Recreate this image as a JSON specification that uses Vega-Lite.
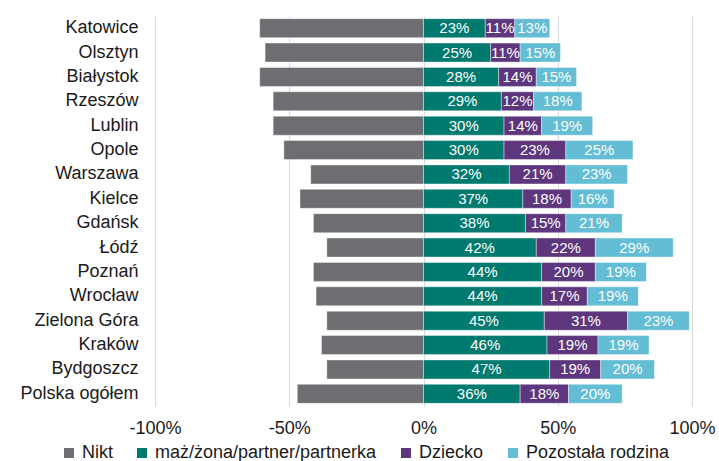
{
  "$schema": "https://vega.github.io/schema/vega-lite/v6.json",
  "width": 537,
  "height": 390,
  "autosize": {"type": "none"},
  "padding": {"left": 155, "top": 16, "right": 27, "bottom": 55},
  "config": {"font": "Liberation Sans", "view": {"stroke": null}},
  "data": {
    "values": [
      {"miasto": "Katowice", "kategoria": "Nikt", "wartosc": -61},
      {"miasto": "Katowice", "kategoria": "maż/żona/partner/partnerka", "wartosc": 23},
      {"miasto": "Katowice", "kategoria": "Dziecko", "wartosc": 11},
      {"miasto": "Katowice", "kategoria": "Pozostała rodzina", "wartosc": 13},
      {"miasto": "Olsztyn", "kategoria": "Nikt", "wartosc": -59},
      {"miasto": "Olsztyn", "kategoria": "maż/żona/partner/partnerka", "wartosc": 25},
      {"miasto": "Olsztyn", "kategoria": "Dziecko", "wartosc": 11},
      {"miasto": "Olsztyn", "kategoria": "Pozostała rodzina", "wartosc": 15},
      {"miasto": "Białystok", "kategoria": "Nikt", "wartosc": -61},
      {"miasto": "Białystok", "kategoria": "maż/żona/partner/partnerka", "wartosc": 28},
      {"miasto": "Białystok", "kategoria": "Dziecko", "wartosc": 14},
      {"miasto": "Białystok", "kategoria": "Pozostała rodzina", "wartosc": 15},
      {"miasto": "Rzeszów", "kategoria": "Nikt", "wartosc": -56},
      {"miasto": "Rzeszów", "kategoria": "maż/żona/partner/partnerka", "wartosc": 29},
      {"miasto": "Rzeszów", "kategoria": "Dziecko", "wartosc": 12},
      {"miasto": "Rzeszów", "kategoria": "Pozostała rodzina", "wartosc": 18},
      {"miasto": "Lublin", "kategoria": "Nikt", "wartosc": -56},
      {"miasto": "Lublin", "kategoria": "maż/żona/partner/partnerka", "wartosc": 30},
      {"miasto": "Lublin", "kategoria": "Dziecko", "wartosc": 14},
      {"miasto": "Lublin", "kategoria": "Pozostała rodzina", "wartosc": 19},
      {"miasto": "Opole", "kategoria": "Nikt", "wartosc": -52},
      {"miasto": "Opole", "kategoria": "maż/żona/partner/partnerka", "wartosc": 30},
      {"miasto": "Opole", "kategoria": "Dziecko", "wartosc": 23},
      {"miasto": "Opole", "kategoria": "Pozostała rodzina", "wartosc": 25},
      {"miasto": "Warszawa", "kategoria": "Nikt", "wartosc": -42},
      {"miasto": "Warszawa", "kategoria": "maż/żona/partner/partnerka", "wartosc": 32},
      {"miasto": "Warszawa", "kategoria": "Dziecko", "wartosc": 21},
      {"miasto": "Warszawa", "kategoria": "Pozostała rodzina", "wartosc": 23},
      {"miasto": "Kielce", "kategoria": "Nikt", "wartosc": -46},
      {"miasto": "Kielce", "kategoria": "maż/żona/partner/partnerka", "wartosc": 37},
      {"miasto": "Kielce", "kategoria": "Dziecko", "wartosc": 18},
      {"miasto": "Kielce", "kategoria": "Pozostała rodzina", "wartosc": 16},
      {"miasto": "Gdańsk", "kategoria": "Nikt", "wartosc": -41},
      {"miasto": "Gdańsk", "kategoria": "maż/żona/partner/partnerka", "wartosc": 38},
      {"miasto": "Gdańsk", "kategoria": "Dziecko", "wartosc": 15},
      {"miasto": "Gdańsk", "kategoria": "Pozostała rodzina", "wartosc": 21},
      {"miasto": "Łódź", "kategoria": "Nikt", "wartosc": -36},
      {"miasto": "Łódź", "kategoria": "maż/żona/partner/partnerka", "wartosc": 42},
      {"miasto": "Łódź", "kategoria": "Dziecko", "wartosc": 22},
      {"miasto": "Łódź", "kategoria": "Pozostała rodzina", "wartosc": 29},
      {"miasto": "Poznań", "kategoria": "Nikt", "wartosc": -41},
      {"miasto": "Poznań", "kategoria": "maż/żona/partner/partnerka", "wartosc": 44},
      {"miasto": "Poznań", "kategoria": "Dziecko", "wartosc": 20},
      {"miasto": "Poznań", "kategoria": "Pozostała rodzina", "wartosc": 19},
      {"miasto": "Wrocław", "kategoria": "Nikt", "wartosc": -40},
      {"miasto": "Wrocław", "kategoria": "maż/żona/partner/partnerka", "wartosc": 44},
      {"miasto": "Wrocław", "kategoria": "Dziecko", "wartosc": 17},
      {"miasto": "Wrocław", "kategoria": "Pozostała rodzina", "wartosc": 19},
      {"miasto": "Zielona Góra", "kategoria": "Nikt", "wartosc": -36},
      {"miasto": "Zielona Góra", "kategoria": "maż/żona/partner/partnerka", "wartosc": 45},
      {"miasto": "Zielona Góra", "kategoria": "Dziecko", "wartosc": 31},
      {"miasto": "Zielona Góra", "kategoria": "Pozostała rodzina", "wartosc": 23},
      {"miasto": "Kraków", "kategoria": "Nikt", "wartosc": -38},
      {"miasto": "Kraków", "kategoria": "maż/żona/partner/partnerka", "wartosc": 46},
      {"miasto": "Kraków", "kategoria": "Dziecko", "wartosc": 19},
      {"miasto": "Kraków", "kategoria": "Pozostała rodzina", "wartosc": 19},
      {"miasto": "Bydgoszcz", "kategoria": "Nikt", "wartosc": -36},
      {"miasto": "Bydgoszcz", "kategoria": "maż/żona/partner/partnerka", "wartosc": 47},
      {"miasto": "Bydgoszcz", "kategoria": "Dziecko", "wartosc": 19},
      {"miasto": "Bydgoszcz", "kategoria": "Pozostała rodzina", "wartosc": 20},
      {"miasto": "Polska ogółem", "kategoria": "Nikt", "wartosc": -47},
      {"miasto": "Polska ogółem", "kategoria": "maż/żona/partner/partnerka", "wartosc": 36},
      {"miasto": "Polska ogółem", "kategoria": "Dziecko", "wartosc": 18},
      {"miasto": "Polska ogółem", "kategoria": "Pozostała rodzina", "wartosc": 20}
    ]
  },
  "transform": [
    {"calculate": "indexof(['Nikt','maż/żona/partner/partnerka','Dziecko','Pozostała rodzina'], datum.kategoria)", "as": "kolejnosc"},
    {"stack": "wartosc", "groupby": ["miasto"], "sort": [{"field": "kolejnosc", "order": "ascending"}], "as": ["x0", "x1"]},
    {"calculate": "(datum.x0 + datum.x1) / 2", "as": "srodek"},
    {"calculate": "datum.wartosc + '%'", "as": "etykieta"}
  ],
  "encoding": {
    "y": {
      "field": "miasto",
      "type": "nominal",
      "sort": ["Katowice", "Olsztyn", "Białystok", "Rzeszów", "Lublin", "Opole", "Warszawa", "Kielce", "Gdańsk", "Łódź", "Poznań", "Wrocław", "Zielona Góra", "Kraków", "Bydgoszcz", "Polska ogółem"],
      "scale": {"paddingInner": 0.22, "paddingOuter": 0.11},
      "axis": {"title": null, "domain": false, "ticks": false, "labelFontSize": 18, "labelPadding": 17, "labelColor": "#1a1a1a", "labelLimit": 300}
    }
  },
  "layer": [
    {
      "mark": {"type": "bar", "stroke": "white", "strokeWidth": 0.8, "strokeOpacity": 0.5},
      "encoding": {
        "x": {
          "field": "x0",
          "type": "quantitative",
          "scale": {"domain": [-100, 100], "nice": false},
          "axis": {"title": null, "values": [-100, -50, 0, 50, 100], "labelExpr": "datum.value + '%'", "grid": true, "gridColor": "#D9D9D9", "domain": false, "ticks": false, "labelFontSize": 18, "labelColor": "#1a1a1a", "labelPadding": 13, "labelFlush": false, "labelOverlap": false}
        },
        "x2": {"field": "x1"},
        "color": {
          "field": "kategoria",
          "type": "nominal",
          "scale": {"domain": ["Nikt", "maż/żona/partner/partnerka", "Dziecko", "Pozostała rodzina"], "range": ["#6E6D72", "#00796E", "#5D367D", "#63BDD5"]},
          "legend": {"title": null, "orient": "none", "direction": "horizontal", "legendX": -95, "legendY": 428, "symbolType": "square", "symbolSize": 100, "symbolStrokeWidth": 0, "labelFontSize": 18, "labelOffset": 4, "columnPadding": 20, "labelColor": "#1a1a1a", "labelLimit": 400}
        }
      }
    },
    {
      "transform": [{"filter": "datum.kategoria !== 'Nikt'"}],
      "mark": {"type": "text", "color": "white", "fontSize": 15},
      "encoding": {
        "x": {"field": "srodek", "type": "quantitative"},
        "text": {"field": "etykieta"}
      }
    }
  ]
}
